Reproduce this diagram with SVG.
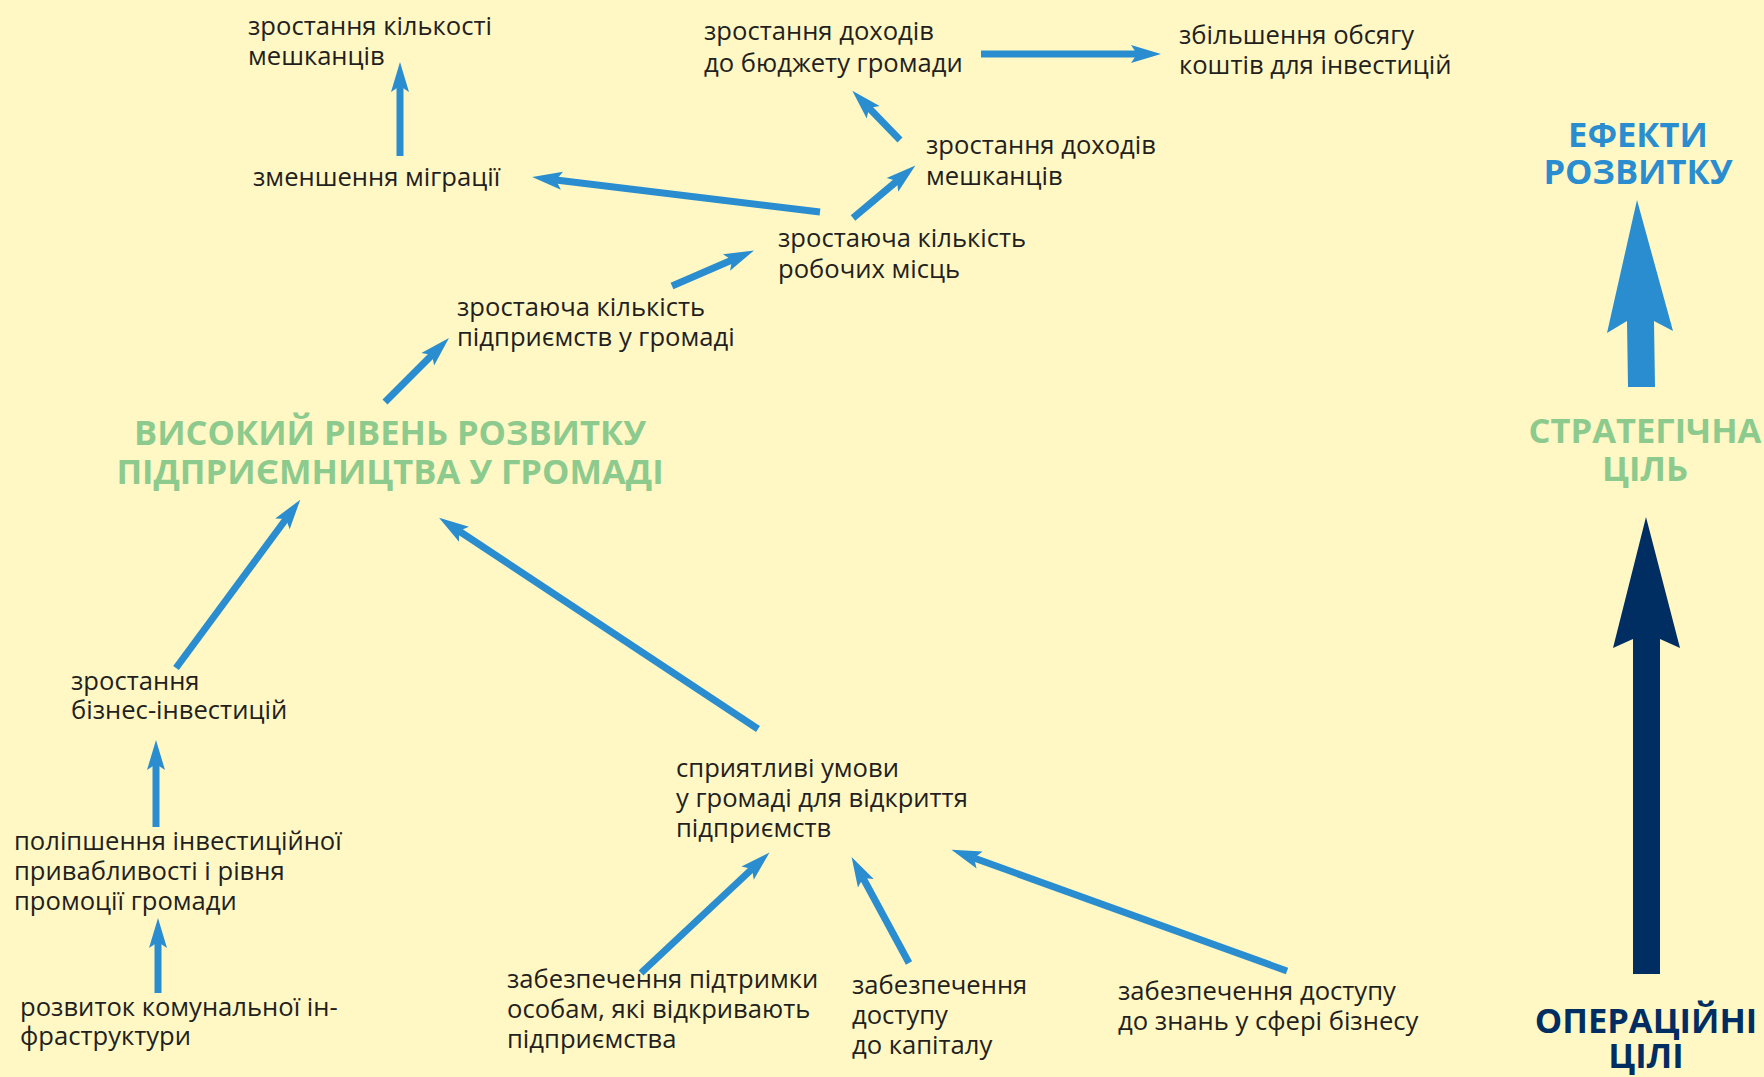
<svg xmlns="http://www.w3.org/2000/svg" width="1764" height="1077" viewBox="0 0 1764 1077">
<defs>
<style>
.t{font-family:"Open Sans","Noto Sans","DejaVu Sans",sans-serif;font-size:25.6px;fill:#231f20}
.h{font-family:"Open Sans","Noto Sans","DejaVu Sans",sans-serif;font-weight:700;font-size:34.5px;text-anchor:middle}
.g{fill:#8dca8e}
.b{fill:#2a8dd0}
.n{fill:#002d62}
.c{stroke:#2a8dd0;stroke-width:7;fill:none;marker-end:url(#ah)}
</style>
<marker id="ah" markerUnits="userSpaceOnUse" viewBox="-8 -12 36 24" markerWidth="36" markerHeight="24" refX="0" refY="0" orient="auto">
<path d="M-6,-9 L24,0 L-6,9 L0,0 Z" fill="#2a8dd0"/>
</marker>
</defs>
<rect x="0" y="0" width="1764" height="1077" fill="#fff8c4"/>

<g id="connectors">
<line class="c" x1="400" y1="156" x2="400" y2="86"/>
<line class="c" x1="981" y1="54" x2="1137" y2="54"/>
<line class="c" x1="900" y1="140" x2="869" y2="108"/>
<line class="c" x1="853" y1="218" x2="897" y2="181"/>
<line class="c" x1="820" y1="212" x2="556" y2="180"/>
<line class="c" x1="672" y1="286" x2="732" y2="260"/>
<line class="c" x1="385" y1="402" x2="432" y2="355"/>
<line class="c" x1="176" y1="668" x2="286" y2="519"/>
<line class="c" x1="758" y1="729" x2="459" y2="531"/>
<line class="c" x1="156" y1="827" x2="156" y2="764"/>
<line class="c" x1="158" y1="993" x2="158" y2="942"/>
<line class="c" x1="641" y1="973" x2="752" y2="869"/>
<line class="c" x1="909" y1="963" x2="863" y2="878"/>
<line class="c" x1="1287" y1="971" x2="974" y2="858"/>
</g>

<g id="n-mistsevi">
<text class="t"><tspan x="248" y="35">зростання кількості</tspan><tspan x="248" y="65">мешканців</tspan></text>
</g>
<g id="n-migratsiia">
<text class="t" x="253" y="186">зменшення міграції</text>
</g>
<g id="n-biudzhet">
<text class="t"><tspan x="704" y="40">зростання доходів</tspan><tspan x="704" y="72">до бюджету громади</tspan></text>
</g>
<g id="n-investytsii">
<text class="t"><tspan x="1179" y="44">збільшення обсягу</tspan><tspan x="1179" y="74">коштів для інвестицій</tspan></text>
</g>
<g id="n-dokhody">
<text class="t"><tspan x="926" y="154">зростання доходів</tspan><tspan x="926" y="185">мешканців</tspan></text>
</g>
<g id="n-robochi">
<text class="t"><tspan x="778" y="247">зростаюча кількість</tspan><tspan x="778" y="278">робочих місць</tspan></text>
</g>
<g id="n-pidpryiemstva">
<text class="t"><tspan x="457" y="316">зростаюча кількість</tspan><tspan x="457" y="346">підприємств у громаді</tspan></text>
</g>
<g id="n-strategic">
<text class="h g"><tspan x="390" y="445">ВИСОКИЙ РІВЕНЬ РОЗВИТКУ</tspan><tspan x="390" y="484">ПІДПРИЄМНИЦТВА У ГРОМАДІ</tspan></text>
</g>
<g id="n-biznes-invest">
<text class="t"><tspan x="71" y="690">зростання</tspan><tspan x="71" y="719">бізнес-інвестицій</tspan></text>
</g>
<g id="n-promotsiia">
<text class="t"><tspan x="14" y="850">поліпшення інвестиційної</tspan><tspan x="14" y="880">привабливості і рівня</tspan><tspan x="14" y="910">промоції громади</tspan></text>
</g>
<g id="n-infrastruktura">
<text class="t"><tspan x="20" y="1016">розвиток комунальної ін-</tspan><tspan x="20" y="1045">фраструктури</tspan></text>
</g>
<g id="n-umovy">
<text class="t"><tspan x="676" y="777">сприятливі умови</tspan><tspan x="676" y="807">у громаді для відкриття</tspan><tspan x="676" y="837">підприємств</tspan></text>
</g>
<g id="n-pidtrymka">
<text class="t"><tspan x="507" y="988">забезпечення підтримки</tspan><tspan x="507" y="1018">особам, які відкривають</tspan><tspan x="507" y="1048">підприємства</tspan></text>
</g>
<g id="n-kapital">
<text class="t"><tspan x="852" y="994">забезпечення</tspan><tspan x="852" y="1024">доступу</tspan><tspan x="852" y="1054">до капіталу</tspan></text>
</g>
<g id="n-znannia">
<text class="t"><tspan x="1118" y="1000">забезпечення доступу</tspan><tspan x="1118" y="1030">до знань у сфері бізнесу</tspan></text>
</g>

<g id="legend-efekty">
<text class="h b"><tspan x="1638" y="147">ЕФЕКТИ</tspan><tspan x="1638" y="184">РОЗВИТКУ</tspan></text>
</g>
<g id="legend-arrow-blue">
<polygon points="1637,200 1673,331 1654,321 1655,387 1628,387 1627,321 1607,333" fill="#2a8dd0"/>
</g>
<g id="legend-strategic">
<text class="h g"><tspan x="1645" y="443">СТРАТЕГІЧНА</tspan><tspan x="1645" y="481">ЦІЛЬ</tspan></text>
</g>
<g id="legend-arrow-navy">
<polygon points="1646,517 1680,648 1660,639 1660,974 1633,974 1633,639 1613,648" fill="#002d62"/>
</g>
<g id="legend-operational">
<text class="h n"><tspan x="1646" y="1033">ОПЕРАЦІЙНІ</tspan><tspan x="1646" y="1068">ЦІЛІ</tspan></text>
</g>
</svg>
